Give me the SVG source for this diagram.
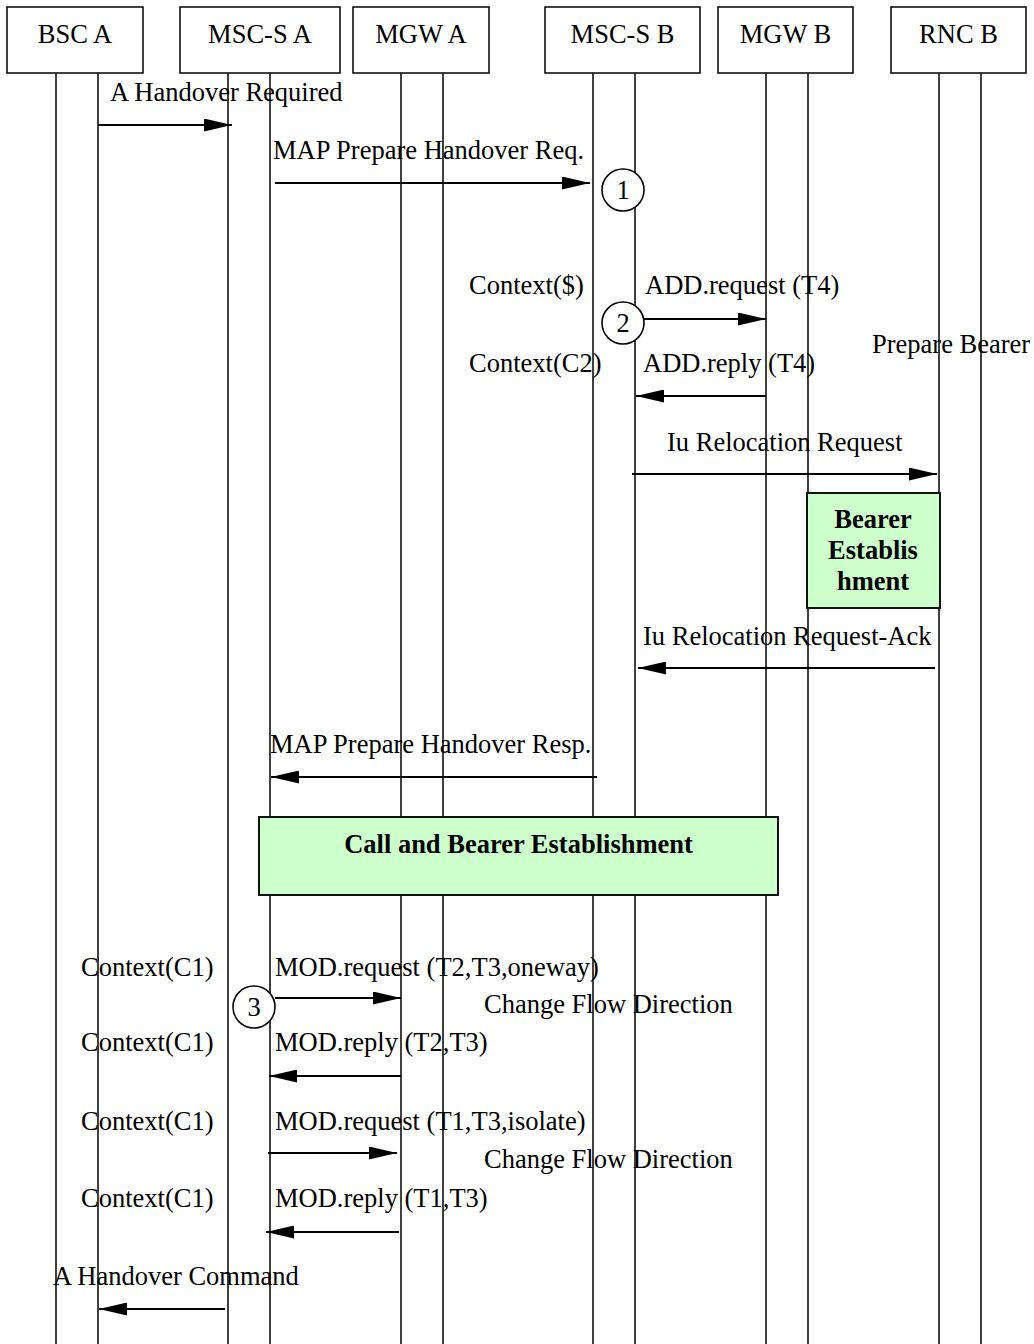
<svg xmlns="http://www.w3.org/2000/svg" width="1034" height="1344" viewBox="0 0 1034 1344">
<style>
text{font-family:"Liberation Serif","Times New Roman",serif;font-size:26.5px;fill:#000}
.hd{text-anchor:middle}
.bd{font-weight:bold;text-anchor:middle}
.box{fill:#fff;stroke:#111;stroke-width:1.6}
.life{stroke:#111;stroke-width:1.6}
.msg{stroke:#000;stroke-width:2;fill:none;marker-end:url(#ah)}
.grn{fill:#ccffcc;stroke:#111;stroke-width:2}
.circ{fill:#fff;stroke:#000;stroke-width:1.6}
</style>
<defs>
<marker id="ah" markerUnits="userSpaceOnUse" viewBox="0 0 28 13" refX="28" refY="6.5" markerWidth="28" markerHeight="13" orient="auto">
<path d="M0,0 L28,6.5 L0,13 z" fill="#000"/>
</marker>
</defs>
<rect width="1034" height="1344" fill="#fff"/>
<g id="lifelines">
<line class="life" x1="56" y1="73" x2="56" y2="1344"/>
<line class="life" x1="98" y1="73" x2="98" y2="1344"/>
<line class="life" x1="228" y1="73" x2="228" y2="1344"/>
<line class="life" x1="270" y1="73" x2="270" y2="1344"/>
<line class="life" x1="401" y1="73" x2="401" y2="1344"/>
<line class="life" x1="443" y1="73" x2="443" y2="1344"/>
<line class="life" x1="593" y1="73" x2="593" y2="1344"/>
<line class="life" x1="635" y1="73" x2="635" y2="1344"/>
<line class="life" x1="766" y1="73" x2="766" y2="1344"/>
<line class="life" x1="808" y1="73" x2="808" y2="1344"/>
<line class="life" x1="939" y1="73" x2="939" y2="1344"/>
<line class="life" x1="981" y1="73" x2="981" y2="1344"/>
</g>
<g id="bsc-a"><rect class="box" x="7" y="7" width="136" height="66"/><text class="hd" x="75" y="43">BSC A</text></g>
<g id="msc-s-a"><rect class="box" x="180" y="7" width="160" height="66"/><text class="hd" x="260" y="43">MSC-S A</text></g>
<g id="mgw-a"><rect class="box" x="353" y="7" width="136" height="66"/><text class="hd" x="421" y="43">MGW A</text></g>
<g id="msc-s-b"><rect class="box" x="545" y="7" width="155" height="66"/><text class="hd" x="622.5" y="43">MSC-S B</text></g>
<g id="mgw-b"><rect class="box" x="718" y="7" width="135" height="66"/><text class="hd" x="785.5" y="43">MGW B</text></g>
<g id="rnc-b"><rect class="box" x="891" y="7" width="135" height="66"/><text class="hd" x="958.5" y="43">RNC B</text></g>
<g id="bearer-establishment"><rect class="grn" x="807" y="493" width="133" height="115"/>
<text class="bd" x="873" y="528">Bearer</text><text class="bd" x="873" y="559">Establis</text><text class="bd" x="873" y="590">hment</text></g>
<g id="call-bearer-establishment"><rect class="grn" x="259" y="817" width="519" height="78"/>
<text class="bd" x="518.5" y="853">Call and Bearer Establishment</text></g>
<g id="connectors">
<line class="msg" x1="98" y1="125" x2="232" y2="125"/>
<line class="msg" x1="275" y1="183" x2="590" y2="183"/>
<line class="msg" x1="644" y1="319" x2="766" y2="319"/>
<line class="msg" x1="766" y1="396" x2="636" y2="396"/>
<line class="msg" x1="632" y1="474" x2="937" y2="474"/>
<line class="msg" x1="935" y1="668" x2="638" y2="668"/>
<line class="msg" x1="597" y1="777" x2="271" y2="777"/>
<line class="msg" x1="275" y1="998" x2="401" y2="998"/>
<line class="msg" x1="401" y1="1076" x2="269" y2="1076"/>
<line class="msg" x1="268" y1="1153" x2="397" y2="1153"/>
<line class="msg" x1="399" y1="1232" x2="266" y2="1232"/>
<line class="msg" x1="225" y1="1309" x2="99" y2="1309"/>
</g>
<g id="labels">
<text x="110" y="101">A Handover Required</text>
<text x="273" y="159">MAP Prepare Handover Req.</text>
<text x="469" y="294">Context($)</text>
<text x="645" y="294">ADD.request (T4)</text>
<text x="469" y="372">Context(C2)</text>
<text x="643" y="372">ADD.reply (T4)</text>
<text x="872" y="353">Prepare Bearer</text>
<text x="667" y="451">Iu Relocation Request</text>
<text x="643" y="645">Iu Relocation Request-Ack</text>
<text x="270" y="753">MAP Prepare Handover Resp.</text>
<text x="81" y="976">Context(C1)</text>
<text x="275" y="976">MOD.request (T2,T3,oneway)</text>
<text x="484" y="1013">Change Flow Direction</text>
<text x="81" y="1051">Context(C1)</text>
<text x="275" y="1051">MOD.reply (T2,T3)</text>
<text x="81" y="1130">Context(C1)</text>
<text x="275" y="1130">MOD.request (T1,T3,isolate)</text>
<text x="484" y="1168">Change Flow Direction</text>
<text x="81" y="1207">Context(C1)</text>
<text x="275" y="1207">MOD.reply (T1,T3)</text>
<text x="53" y="1285">A Handover Command</text>
</g>
<g id="step-1"><circle class="circ" cx="623" cy="190" r="21"/><text class="hd" x="623" y="199">1</text></g>
<g id="step-2"><circle class="circ" cx="623" cy="323" r="21"/><text class="hd" x="623" y="332">2</text></g>
<g id="step-3"><circle class="circ" cx="254" cy="1007" r="21"/><text class="hd" x="254" y="1016">3</text></g>
</svg>
